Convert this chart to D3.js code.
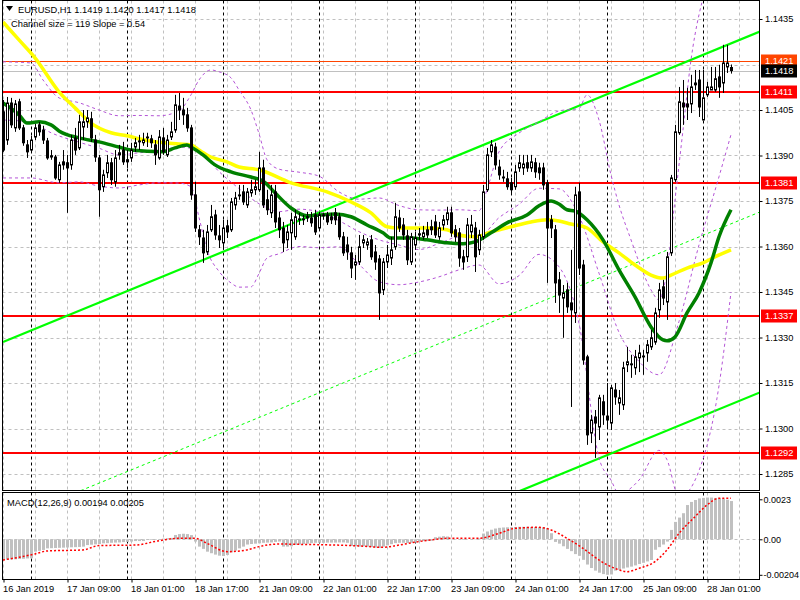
<!DOCTYPE html>
<html><head><meta charset="utf-8">
<script src="https://cdn.jsdelivr.net/npm/d3@7"></script>
<style>
body{margin:0;background:#fff;}
svg{display:block;font-family:"Liberation Sans",Arial,sans-serif;}
</style></head><body>
<svg id="c" width="800" height="600"></svg>
<script>
// ---------- DATA ----------
const symbolTitle = "EURUSD,H1  1.1419 1.1420 1.1417 1.1418";
const channelTitle = "Channel size = 119 Slope = 0.54";
const macdTitle = "MACD(12,26,9) 0.00194 0.00205";

const opens = [
1.14044,1.13951,1.14073,1.13991,1.14077,1.13991,1.13935,1.13918,1.13961,1.14001,
1.13984,1.13948,1.13899,1.13895,1.13820,1.13879,1.13876,1.13869,1.13958,1.13925,
1.13994,1.14011,1.14021,1.13951,1.13892,1.13797,1.13843,1.13876,1.13813,1.13902,
1.13918,1.13886,1.13892,1.13928,1.13948,1.13942,1.13961,1.13955,1.13935,1.13892,
1.13958,1.13902,1.13961,1.13984,1.14063,1.14050,1.14034,1.13991,1.13770,1.13655,
1.13628,1.13582,1.13655,1.13704,1.13635,1.13612,1.13668,1.13655,1.13737,1.13767,
1.13780,1.13737,1.13777,1.13787,1.13787,1.13859,1.13754,1.13711,1.13780,1.13694,
1.13661,1.13622,1.13645,1.13632,1.13691,1.13688,1.13698,1.13694,1.13704,1.13661,
1.13704,1.13704,1.13698,1.13711,1.13698,1.13632,1.13605,1.13579,1.13539,1.13549,
1.13612,1.13605,1.13622,1.13582,1.13559,1.13457,1.13549,1.13562,1.13599,1.13694,
1.13671,1.13635,1.13549,1.13605,1.13638,1.13632,1.13655,1.13665,1.13681,1.13632,
1.13671,1.13688,1.13711,1.13655,1.13645,1.13566,1.13566,1.13648,1.13661,1.13589,
1.13632,1.13787,1.13912,1.13928,1.13862,1.13829,1.13823,1.13810,1.13797,1.13859,
1.13859,1.13876,1.13859,1.13876,1.13859,1.13859,1.13810,1.13688,1.13655,1.13490,
1.13430,1.13457,1.13414,1.13381,1.13780,1.13539,1.13236,1.12985,1.13038,1.13005,
1.13088,1.13041,1.13018,1.13127,1.13084,1.13078,1.13210,1.13210,1.13200,1.13233,
1.13236,1.13249,1.13269,1.13285,1.13391,1.13467,1.13417,1.13579,1.13820,1.13975,
1.14073,1.14070,1.14070,1.14133,1.14149,1.14017,1.14100,1.14116,1.14116,1.14159,
1.14139,1.14192,1.14190];
const highs = [
1.14083,1.14093,1.14090,1.14083,1.14087,1.14001,1.13951,1.13965,1.14004,1.14011,
1.13998,1.13958,1.13918,1.13902,1.13879,1.13918,1.13902,1.13968,1.13991,1.14034,
1.14050,1.14050,1.14044,1.13968,1.13902,1.13853,1.13902,1.13892,1.13918,1.13935,
1.13945,1.13918,1.13942,1.13958,1.13968,1.13975,1.13975,1.13968,1.13951,1.13984,
1.13991,1.13968,1.14011,1.14100,1.14106,1.14090,1.14057,1.14001,1.13813,1.13671,
1.13655,1.13671,1.13737,1.13721,1.13671,1.13688,1.13688,1.13760,1.13780,1.13803,
1.13803,1.13793,1.13820,1.13820,1.13912,1.13886,1.13787,1.13803,1.13803,1.13714,
1.13681,1.13671,1.13711,1.13721,1.13711,1.13704,1.13714,1.13714,1.13721,1.13714,
1.13711,1.13714,1.13711,1.13727,1.13711,1.13648,1.13632,1.13599,1.13572,1.13638,
1.13638,1.13628,1.13638,1.13605,1.13572,1.13562,1.13605,1.13632,1.13744,1.13721,
1.13694,1.13655,1.13645,1.13648,1.13661,1.13668,1.13681,1.13688,1.13704,1.13681,
1.13704,1.13731,1.13731,1.13671,1.13661,1.13589,1.13694,1.13704,1.13681,1.13655,
1.13803,1.13925,1.13951,1.13942,1.13886,1.13853,1.13846,1.13826,1.13869,1.13902,
1.13902,1.13902,1.13902,1.13892,1.13876,1.13876,1.13820,1.13704,1.13671,1.13516,
1.13473,1.13480,1.13589,1.13797,1.13810,1.13556,1.13243,1.13045,1.13061,1.13111,
1.13111,1.13150,1.13144,1.13150,1.13127,1.13220,1.13269,1.13243,1.13259,1.13276,
1.13259,1.13292,1.13325,1.13398,1.13480,1.13490,1.13582,1.13836,1.14001,1.14126,
1.14149,1.14123,1.14166,1.14182,1.14182,1.14182,1.14143,1.14192,1.14192,1.14199,
1.14265,1.14265,1.14200];
const lows = [
1.13912,1.13935,1.13991,1.13978,1.13984,1.13932,1.13892,1.13909,1.13951,1.13965,
1.13938,1.13886,1.13886,1.13820,1.13810,1.13853,1.13711,1.13853,1.13902,1.13918,
1.13951,1.13991,1.13945,1.13879,1.13698,1.13780,1.13826,1.13803,1.13797,1.13886,
1.13869,1.13859,1.13879,1.13912,1.13918,1.13932,1.13928,1.13925,1.13869,1.13886,
1.13902,1.13895,1.13951,1.13975,1.14017,1.14001,1.13978,1.13754,1.13648,1.13605,
1.13546,1.13572,1.13648,1.13622,1.13595,1.13589,1.13628,1.13648,1.13721,1.13754,
1.13737,1.13727,1.13764,1.13770,1.13780,1.13727,1.13704,1.13694,1.13661,1.13628,
1.13582,1.13595,1.13589,1.13622,1.13671,1.13671,1.13681,1.13665,1.13638,1.13655,
1.13688,1.13671,1.13674,1.13671,1.13622,1.13569,1.13556,1.13496,1.13490,1.13539,
1.13595,1.13589,1.13556,1.13523,1.13358,1.13440,1.13529,1.13539,1.13589,1.13648,
1.13622,1.13539,1.13539,1.13589,1.13622,1.13622,1.13628,1.13638,1.13628,1.13622,
1.13655,1.13671,1.13632,1.13615,1.13533,1.13523,1.13549,1.13628,1.13516,1.13572,
1.13622,1.13780,1.13895,1.13853,1.13820,1.13813,1.13787,1.13770,1.13787,1.13846,
1.13836,1.13846,1.13846,1.13826,1.13820,1.13787,1.13480,1.13628,1.13414,1.13381,
1.13299,1.13381,1.13071,1.13348,1.13506,1.13210,1.12946,1.12952,1.12903,1.12962,
1.13012,1.13005,1.12995,1.13078,1.13045,1.13061,1.13186,1.13167,1.13177,1.13186,
1.13177,1.13220,1.13259,1.13276,1.13365,1.13407,1.13358,1.13569,1.13813,1.13968,
1.14001,1.14017,1.14040,1.14116,1.14027,1.14017,1.14093,1.14116,1.14110,1.14090,
1.14106,1.14172,1.14170];
const closes = [
1.13918,1.14073,1.14001,1.14070,1.13991,1.13942,1.13912,1.13951,1.13991,1.13978,
1.13951,1.13892,1.13895,1.13826,1.13869,1.13869,1.13859,1.13951,1.13918,1.14011,
1.14011,1.14024,1.13958,1.13895,1.13787,1.13836,1.13876,1.13820,1.13892,1.13909,
1.13879,1.13879,1.13918,1.13942,1.13945,1.13951,1.13958,1.13942,1.13902,1.13961,
1.13912,1.13951,1.13978,1.14067,1.14050,1.14034,1.13991,1.13770,1.13661,1.13632,
1.13579,1.13648,1.13698,1.13638,1.13622,1.13661,1.13648,1.13747,1.13760,1.13770,
1.13747,1.13780,1.13787,1.13797,1.13859,1.13737,1.13721,1.13770,1.13681,1.13655,
1.13612,1.13648,1.13688,1.13698,1.13688,1.13691,1.13694,1.13678,1.13648,1.13704,
1.13701,1.13681,1.13688,1.13688,1.13632,1.13579,1.13582,1.13529,1.13549,1.13599,
1.13622,1.13615,1.13566,1.13549,1.13447,1.13549,1.13572,1.13589,1.13698,1.13661,
1.13638,1.13556,1.13632,1.13628,1.13642,1.13645,1.13638,1.13655,1.13638,1.13661,
1.13688,1.13711,1.13645,1.13632,1.13562,1.13549,1.13671,1.13671,1.13566,1.13638,
1.13780,1.13902,1.13935,1.13869,1.13836,1.13826,1.13797,1.13787,1.13846,1.13876,
1.13872,1.13859,1.13879,1.13846,1.13843,1.13803,1.13661,1.13661,1.13480,1.13440,
1.13447,1.13401,1.13391,1.13770,1.13529,1.13226,1.12979,1.13028,1.13018,1.13101,
1.13045,1.13028,1.13134,1.13104,1.13101,1.13200,1.13220,1.13213,1.13236,1.13249,
1.13239,1.13276,1.13299,1.13381,1.13457,1.13430,1.13566,1.13826,1.13978,1.14077,
1.14060,1.14060,1.14126,1.14139,1.14060,1.14090,1.14126,1.14126,1.14153,1.14126,
1.14205,1.14205,1.14180];

// Moving averages (knots: bar index, price)
const slowMaBars = [0,4,8,14,18,22,27,31,34,38,44,47,49,52,56,59,64,72,81,87,92,96,99,106,111,114,118,122,127,132,136,139,142,146,150,154,158,162,165,167,171,175,178,182];
const slowMaValues = [1.14340,1.14281,1.14222,1.14110,1.14057,1.14007,1.13975,1.13965,1.13955,1.13945,1.13938,1.13935,1.13918,1.13895,1.13879,1.13862,1.13853,1.13810,1.13780,1.13747,1.13711,1.13665,1.13661,1.13661,1.13655,1.13638,1.13632,1.13648,1.13665,1.13681,1.13688,1.13684,1.13674,1.13661,1.13615,1.13579,1.13539,1.13506,1.13496,1.13506,1.13529,1.13546,1.13566,1.13589];
const fastMaBars = [0,4,6,9,12,14,19,24,29,32,40,43,46,47,50,53,57,62,65,68,72,76,79,83,87,91,95,97,102,106,111,115,118,122,126,131,134,137,139,141,143,146,150,154,158,162,165,166,168,171,174,177,179,182];
const fastMaValues = [1.14073,1.14034,1.14007,1.14011,1.14001,1.13981,1.13958,1.13945,1.13928,1.13918,1.13912,1.13925,1.13935,1.13928,1.13902,1.13869,1.13846,1.13829,1.13816,1.13777,1.13727,1.13701,1.13704,1.13707,1.13698,1.13671,1.13645,1.13628,1.13628,1.13622,1.13612,1.13609,1.13615,1.13645,1.13678,1.13704,1.13734,1.13750,1.13740,1.13721,1.13717,1.13688,1.13622,1.13523,1.13434,1.13335,1.13292,1.13289,1.13302,1.13381,1.13447,1.13546,1.13632,1.13721];

// Bollinger bands (knots: bar index, price)
const upperBandBars = [0,7,10,14,19,24,29,34,39,44,47,49,52,54,57,59,62,64,66,69,74,79,84,89,94,99,104,109,114,119,121,124,129,134,139,144,146,149,152,154,157,159,162,164,166,168,170,172,174,177,182];
const upperBandValues = [1.14209,1.14205,1.14149,1.14090,1.14074,1.14050,1.14031,1.14032,1.14031,1.14047,1.14100,1.14149,1.14182,1.14176,1.14156,1.14116,1.14050,1.13972,1.13886,1.13855,1.13845,1.13832,1.13780,1.13756,1.13760,1.13735,1.13721,1.13720,1.13721,1.13718,1.13787,1.13912,1.13974,1.14011,1.14047,1.14055,1.14100,1.14017,1.13836,1.13737,1.13622,1.13549,1.13457,1.13424,1.13523,1.13754,1.13984,1.14215,1.14364,1.14479,1.14509];
const middleBandBars = [0,7,12,19,24,29,34,39,44,49,54,59,64,69,74,79,84,89,94,99,104,109,114,119,124,129,134,139,144,149,154,159,164,169,174,179,182];
const middleBandValues = [1.14017,1.14010,1.13975,1.13944,1.13924,1.13902,1.13909,1.13914,1.13928,1.13916,1.13847,1.13791,1.13741,1.13715,1.13723,1.13714,1.13685,1.13649,1.13622,1.13605,1.13590,1.13610,1.13632,1.13633,1.13695,1.13739,1.13792,1.13790,1.13701,1.13512,1.13317,1.13221,1.13177,1.13353,1.13605,1.13830,1.13969];
const lowerBandBars = [0,7,14,19,24,29,34,39,44,47,49,51,54,57,59,62,64,66,69,74,79,84,89,94,99,104,109,114,119,124,129,134,139,144,149,152,154,159,164,166,169,174,179,182];
const lowerBandValues = [1.13826,1.13826,1.13810,1.13813,1.13799,1.13793,1.13803,1.13810,1.13809,1.13797,1.13696,1.13589,1.13518,1.13480,1.13466,1.13467,1.13511,1.13562,1.13576,1.13600,1.13596,1.13599,1.13541,1.13484,1.13474,1.13483,1.13500,1.13523,1.13539,1.13477,1.13504,1.13574,1.13533,1.13347,1.12903,1.12830,1.12785,1.12830,1.12928,1.12897,1.12773,1.12861,1.13141,1.13450];

// Regression channel (bar index, price)
const channelBars = [0,190];
const channelUpper = [1.13285,1.14313];
const channelMiddle = [1.12690,1.13718];
const channelLower = [1.12095,1.13123];

// Horizontal levels
const levelPrices = [1.1411,1.1381,1.1337,1.1292];
const askPrice = 1.1421;
const bidPrice = 1.1418;

// Axis ticks
const priceTicks = [1.1435,1.1405,1.1390,1.1375,1.1360,1.1345,1.1330,1.1315,1.1300,1.1285];
const priceGrid = [1.1435,1.1420,1.1405,1.1390,1.1375,1.1360,1.1345,1.1330,1.1315,1.1300,1.1285];
const timeTickBars = [0,16,32,48,64,80,96,112,128,144,160,176];
const timeTickLabels = ["16 Jan 2019","17 Jan 09:00","18 Jan 01:00","18 Jan 17:00","21 Jan 09:00","22 Jan 01:00","22 Jan 17:00","23 Jan 09:00","24 Jan 01:00","24 Jan 17:00","25 Jan 09:00","28 Jan 01:00"];
const daySeparatorBars = [7,31,55,79,103,127,151,175];
const macdTicks = [0.0023,0.00,-0.00204];
const macdTickLabels = ["0.0023","0.00","-0.00204"];

// MACD
const macdHist = [
-0.00119,-0.00118,-0.00116,-0.00115,-0.00113,-0.00112,-0.00110,-0.00109,-0.00071,-0.00066,
-0.00061,-0.00052,-0.00051,-0.00050,-0.00049,-0.00048,-0.00047,-0.00046,-0.00045,-0.00044,
-0.00042,-0.00033,-0.00031,-0.00029,-0.00027,-0.00023,-0.00022,-0.00020,-0.00019,-0.00018,
-0.00016,-0.00015,-0.00013,-0.00010,-0.00010,-0.00010,-0.00004,-0.00004,-0.00003,-0.00003,
0.00004,0.00006,0.00008,0.00025,0.00030,0.00032,0.00030,0.00024,-0.00013,-0.00042,
-0.00055,-0.00071,-0.00080,-0.00088,-0.00094,-0.00096,-0.00090,-0.00075,-0.00065,-0.00052,
-0.00042,-0.00030,-0.00027,-0.00025,-0.00023,-0.00020,-0.00019,-0.00018,-0.00015,-0.00013,
-0.00042,-0.00042,-0.00040,-0.00032,-0.00030,-0.00027,-0.00025,-0.00022,-0.00020,-0.00020,
-0.00020,-0.00019,-0.00019,-0.00019,-0.00018,-0.00018,-0.00020,-0.00038,-0.00040,-0.00042,
-0.00040,-0.00042,-0.00045,-0.00048,-0.00050,-0.00042,-0.00035,-0.00028,-0.00022,-0.00020,
-0.00020,-0.00021,-0.00020,-0.00019,-0.00012,-0.00010,-0.00009,-0.00008,0.00012,0.00015,
0.00018,0.00016,0.00003,0.00002,-0.00002,-0.00004,0.00000,0.00002,-0.00002,0.00005,
0.00033,0.00045,0.00055,0.00062,0.00066,0.00068,0.00069,0.00070,0.00071,0.00072,
0.00072,0.00072,0.00071,0.00071,0.00070,0.00069,0.00065,0.00035,-0.00015,-0.00025,
-0.00040,-0.00055,-0.00068,-0.00085,-0.00095,-0.00118,-0.00145,-0.00165,-0.00180,-0.00192,
-0.00200,-0.00204,-0.00202,-0.00180,-0.00175,-0.00168,-0.00162,-0.00157,-0.00150,-0.00142,
-0.00135,-0.00127,-0.00119,-0.00060,-0.00045,-0.00030,-0.00013,0.00054,0.00100,0.00125,
0.00150,0.00197,0.00215,0.00226,0.00235,0.00238,0.00240,0.00240,0.00238,0.00236,
0.00234,0.00228,0.00220];
const signalBars = [0,4,8,11,20,24,33,39,44,48,51,56,61,64,69,74,83,89,95,99,104,112,119,124,128,134,137,141,145,149,153,156,159,163,166,169,173,176,179,182];
const signalValues = [-0.00119,-0.00103,-0.00084,-0.00067,-0.00061,-0.00036,-0.00033,-0.00008,0.00006,0.00006,-0.00023,-0.00071,-0.00061,-0.00042,-0.00027,-0.00029,-0.00033,-0.00038,-0.00046,-0.00033,-0.00013,0.00006,0.00006,0.00034,0.00063,0.00069,0.00054,0.00006,-0.00052,-0.00119,-0.00167,-0.00186,-0.00167,-0.00128,-0.00061,0.00034,0.00130,0.00197,0.00236,0.00236];

// ---------- LAYOUT ----------
const L = 2.5, R = 759.5, mainTop = 0.5, mainBot = 490.5, macdTop = 492.5, macdBot = 579.5;
const fontSize = "9.3px";
const svg = d3.select("#c");
const x = d3.scaleLinear().domain([0, 182]).range([3, 731]);
const y = d3.scaleLinear().domain([1.1285, 1.1435]).range([474, 19]);
const ym = d3.scaleLinear().domain([-0.00204, 0.0023]).range([574.8, 499.3]);

const defs = svg.append("defs");
defs.append("clipPath").attr("id","clipMain").append("rect").attr("x",L).attr("y",mainTop).attr("width",R-L).attr("height",mainBot-mainTop);
defs.append("clipPath").attr("id","clipMacd").append("rect").attr("x",L).attr("y",macdTop).attr("width",R-L).attr("height",macdBot-macdTop);

svg.append("rect").attr("width",800).attr("height",600).attr("fill","#fff");

// grids
const gridG = svg.append("g");
const vgrid = d3.range(0, 190, 8);
[[mainTop, mainBot],[macdTop, macdBot]].forEach(([t,b])=>{
  gridG.selectAll(null).data(vgrid).enter().append("line")
    .attr("x1",d=>Math.round(x(d))+0.5).attr("x2",d=>Math.round(x(d))+0.5)
    .attr("y1",t).attr("y2",b).attr("stroke","#c0c0c0").attr("stroke-dasharray","3,3");
  gridG.selectAll(null).data(daySeparatorBars).enter().append("line")
    .attr("x1",d=>Math.round(x(d))+0.5).attr("x2",d=>Math.round(x(d))+0.5)
    .attr("y1",t).attr("y2",b).attr("stroke","#000").attr("stroke-dasharray","3,3");
});
gridG.selectAll(null).data(priceGrid).enter().append("line")
  .attr("x1",L).attr("x2",R).attr("y1",d=>Math.round(y(d))+0.5).attr("y2",d=>Math.round(y(d))+0.5)
  .attr("stroke","#c0c0c0").attr("stroke-dasharray","3,3");
gridG.append("line").attr("x1",L).attr("x2",R).attr("y1",Math.round(ym(0))+0.5).attr("y2",Math.round(ym(0))+0.5)
  .attr("stroke","#c0c0c0").attr("stroke-dasharray","3,3");

// main panel content
const mainG = svg.append("g").attr("clip-path","url(#clipMain)");

mainG.append("line").attr("x1",L).attr("x2",R).attr("y1",Math.round(y(bidPrice))+0.5).attr("y2",Math.round(y(bidPrice))+0.5).attr("stroke","#c0c0c0");
mainG.append("line").attr("x1",L).attr("x2",R).attr("y1",Math.round(y(askPrice))+0.5).attr("y2",Math.round(y(askPrice))+0.5).attr("stroke","#ff4500");
mainG.selectAll(null).data(levelPrices).enter().append("line")
  .attr("x1",L).attr("x2",R).attr("y1",d=>Math.round(y(d))).attr("y2",d=>Math.round(y(d)))
  .attr("stroke","#ff0000").attr("stroke-width",2);

// channel
const chanLine = (vals, w, dash) => {
  const p = mainG.append("line")
    .attr("x1",x(channelBars[0])).attr("y1",y(vals[0]))
    .attr("x2",x(channelBars[1])).attr("y2",y(vals[1]))
    .attr("stroke","#00ff00").attr("stroke-width",w);
  if (dash) p.attr("stroke-dasharray",dash);
};
chanLine(channelUpper,2.2);
chanLine(channelLower,2.2);
chanLine(channelMiddle,1,"3,3");

// bands
const knotLine = (bars, vals, sc) => d3.line().x((d,i)=>x(bars[i])).y(d=>sc(d)).curve(d3.curveMonotoneX)(vals);
[[upperBandBars,upperBandValues],[middleBandBars,middleBandValues],[lowerBandBars,lowerBandValues]].forEach(([b,v])=>{
  mainG.append("path").attr("d",knotLine(b,v,y)).attr("fill","none").attr("stroke","#b455d6").attr("stroke-dasharray","3,3");
});

// MAs
mainG.append("path").attr("d",knotLine(slowMaBars,slowMaValues,y)).attr("fill","none").attr("stroke","#ffff00").attr("stroke-width",3.5);
mainG.append("path").attr("d",knotLine(fastMaBars,fastMaValues,y)).attr("fill","none").attr("stroke","#008000").attr("stroke-width",3.5);

// candles
const idx = d3.range(opens.length);
const cg = mainG.append("g");
cg.selectAll(null).data(idx).enter().append("line")
  .attr("x1",i=>x(i)+0.5).attr("x2",i=>x(i)+0.5)
  .attr("y1",i=>y(highs[i])).attr("y2",i=>y(lows[i]))
  .attr("stroke","#000").attr("stroke-width",1);
cg.selectAll(null).data(idx).enter().append("rect")
  .attr("x",i=>x(i)-0.5).attr("width",2)
  .attr("y",i=>y(Math.max(opens[i],closes[i])))
  .attr("height",i=>Math.max(0.01, Math.abs(y(opens[i])-y(closes[i]))))
  .attr("fill",i=>closes[i]>=opens[i]?"#fff":"#000")
  .attr("stroke","#000").attr("stroke-width",1);

// MACD panel
const macdG = svg.append("g").attr("clip-path","url(#clipMacd)");
macdG.selectAll(null).data(idx).enter().append("rect")
  .attr("x",i=>x(i)-1).attr("width",3)
  .attr("y",i=>Math.min(ym(macdHist[i]),ym(0)))
  .attr("height",i=>Math.abs(ym(macdHist[i])-ym(0)))
  .attr("fill","#c0c0c0");
macdG.append("path").attr("d",knotLine(signalBars,signalValues,ym)).attr("fill","none")
  .attr("stroke","#ff0000").attr("stroke-width",1.5).attr("stroke-dasharray","2,2");

// panel borders
svg.append("rect").attr("x",L).attr("y",mainTop).attr("width",R-L).attr("height",mainBot-mainTop).attr("fill","none").attr("stroke","#000");
svg.append("rect").attr("x",L).attr("y",macdTop).attr("width",R-L).attr("height",macdBot-macdTop).attr("fill","none").attr("stroke","#000");

// axes
const styleAxis = (g, fs) => {
  g.select(".domain").remove();
  g.selectAll("text").attr("font-size",fs).attr("fill","#000").attr("font-family","Liberation Sans, Arial");
};
const pAxis = svg.append("g").attr("transform",`translate(${R},0)`)
  .call(d3.axisRight(y).tickValues(priceTicks).tickSize(3).tickPadding(2.5).tickFormat(d3.format(".4f")));
styleAxis(pAxis, fontSize);

const mAxis = svg.append("g").attr("transform",`translate(${R},0)`)
  .call(d3.axisRight(ym).tickValues(macdTicks).tickSize(3).tickPadding(1).tickFormat((d,i)=>macdTickLabels[i]));
styleAxis(mAxis, "9px");

const tAxis = svg.append("g").attr("transform",`translate(0,${macdBot})`)
  .call(d3.axisBottom(x).tickValues(timeTickBars).tickSize(3).tickPadding(3).tickFormat((d,i)=>timeTickLabels[i]));
styleAxis(tAxis, fontSize);
tAxis.selectAll("text").attr("text-anchor","start").attr("dx","-0.5");
tAxis.selectAll(".tick line").attr("transform","translate(0.5,0)");

// price tags
const tag = (price, bg) => {
  const yy = Math.round(y(price));
  svg.append("rect").attr("x",R+1.5).attr("y",yy-6.5).attr("width",36).attr("height",13).attr("fill",bg);
  svg.append("text").attr("x",R+5.5).attr("y",yy).attr("dy","0.35em").attr("font-size",fontSize).attr("fill","#fff").text(d3.format(".4f")(price));
};
levelPrices.forEach(p=>tag(p,"#ff0000"));
tag(askPrice,"#ff4500");
tag(bidPrice,"#000000");

// titles
svg.append("path").attr("d","M6,6 L13,6 L9.5,11 Z").attr("fill","#000");
svg.append("text").attr("x",18).attr("y",13).attr("font-size",fontSize).attr("fill","#000").text(symbolTitle);
svg.append("text").attr("x",11).attr("y",27).attr("font-size",fontSize).attr("fill","#000").text(channelTitle);
svg.append("text").attr("x",7).attr("y",506).attr("font-size",fontSize).attr("fill","#000").text(macdTitle);
</script>
</body></html>
